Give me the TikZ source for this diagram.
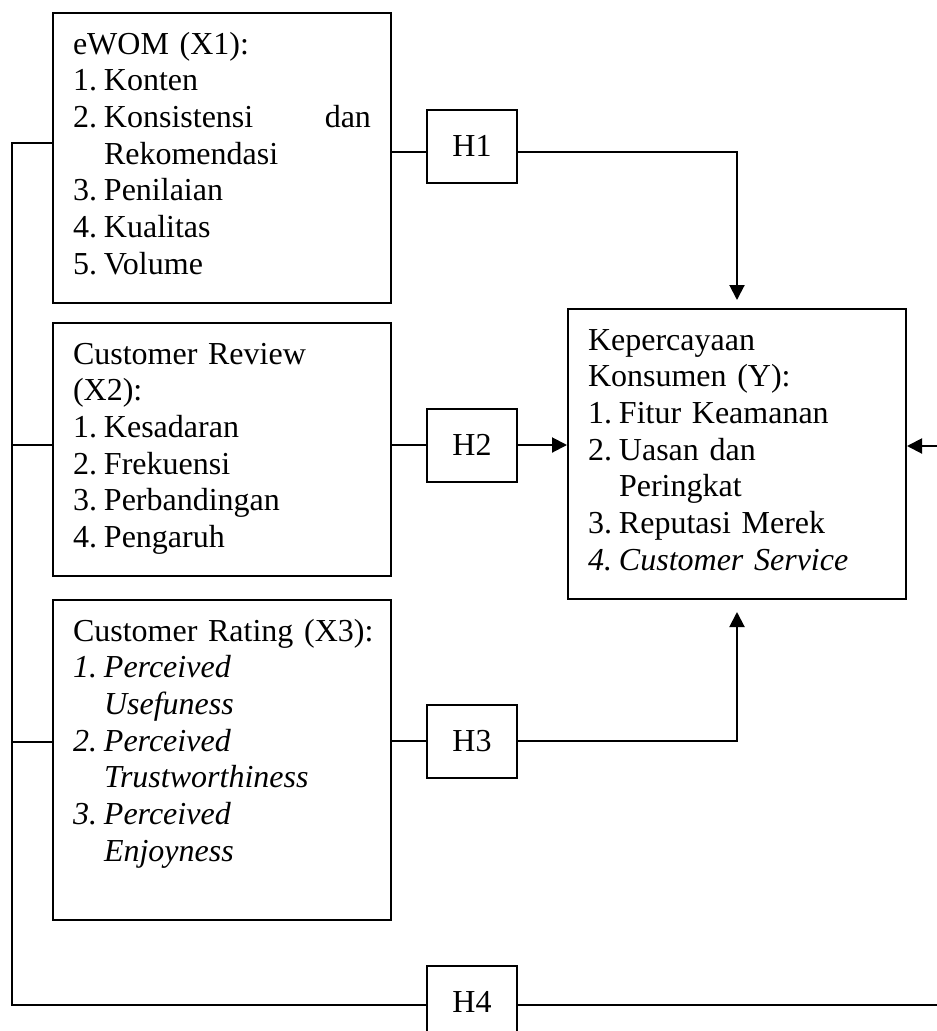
\documentclass[tikz,border=0pt]{standalone}
\usepackage{fontspec}
\setmainfont{Liberation Serif}
\usetikzlibrary{arrows.meta}

\newcommand{\itm}[2]{\makebox[31pt][l]{#1}#2}
\newcommand{\cont}{\hspace*{31pt}}

\begin{document}
\begin{tikzpicture}[x=1pt,y=-1pt,
        font=\fontsize{32}{36.7}\selectfont,
        Var/.style={draw, line width=2pt, anchor=north west,
            inner xsep=20pt, inner ysep=0pt, text width=298pt,
            align=left, text height=41pt},
        Hyp/.style={draw, line width=2pt, minimum width=90pt,
            minimum height=73pt, inner sep=0pt},
        link/.style={line width=2pt},
        arr/.style={line width=2pt, -{Triangle[length=15pt,width=15pt]}}]
    \useasboundingbox (0,0) rectangle (937,1031);

    % variabel
    \node[Var, text depth=249pt] (X1) at (52,12) {eWOM (X1):\\
        \itm{1.}{Konten}\\
        \itm{2.}{\makebox[267pt][l]{Konsistensi\hfill dan}}\\
        \cont Rekomendasi\\
        \itm{3.}{Penilaian}\\
        \itm{4.}{Kualitas}\\
        \itm{5.}{Volume}};
    \node[Var, text depth=212pt] (X2) at (52,322) {Customer Review\\
        (X2):\\
        \itm{1.}{Kesadaran}\\
        \itm{2.}{Frekuensi}\\
        \itm{3.}{Perbandingan}\\
        \itm{4.}{Pengaruh}};
    \node[Var, text depth=279pt] (X3) at (52,599) {\mbox{Customer Rating (X3):}\\
        \itshape\itm{1.}{Perceived}\\
        \itshape\cont Usefuness\\
        \itshape\itm{2.}{Perceived}\\
        \itshape\cont Trustworthiness\\
        \itshape\itm{3.}{Perceived}\\
        \itshape\cont Enjoyness};
    \node[Var, text depth=249pt] (Y) at (567,308) {Kepercayaan\\
        Konsumen (Y):\\
        \itm{1.}{Fitur Keamanan}\\
        \itm{2.}{Uasan dan}\\
        \cont Peringkat\\
        \itm{3.}{Reputasi Merek}\\
        \itshape\itm{4.}{Customer Service}};

    % hipotesis
    \node[Hyp] (H1) at (472,146) {H1};
    \node[Hyp] (H2) at (472,445) {H2};
    \node[Hyp] (H3) at (472,741) {H3};
    \node[Hyp] (H4) at (472,1002) {H4};

    \coordinate (t1) at (12,143);
    \coordinate (t2) at (12,445);
    \coordinate (t3) at (12,742);
    \coordinate (t4) at (12,1005);
    \coordinate (h1y) at (0,152);
    \coordinate (rOut) at (937,1005);
    \coordinate (rIn) at (937,446);

    \draw[link] (X1.west |- t1) -- (t1) -- (t4) -- (H4.west |- t4);
    \draw[link] (t2) -- (X2.west |- t2);
    \draw[link] (t3) -- (X3.west |- t3);
    \draw[link] (H4.east |- rOut) -- (rOut);

    \draw[link] (X1.east |- h1y) -- (H1.west |- h1y);
    \draw[arr, shorten >=8pt] (H1.east |- h1y) -| (Y.north);
    \draw[link] (X2.east |- H2) -- (H2.west);
    \draw[arr] (H2.east) -- (Y.west |- H2);
    \draw[link] (X3.east |- H3) -- (H3.west);
    \draw[arr, shorten >=12pt] (H3.east) -| (Y.south);
    \draw[arr] (rIn) -- (Y.east |- rIn);
\end{tikzpicture}
\end{document}
